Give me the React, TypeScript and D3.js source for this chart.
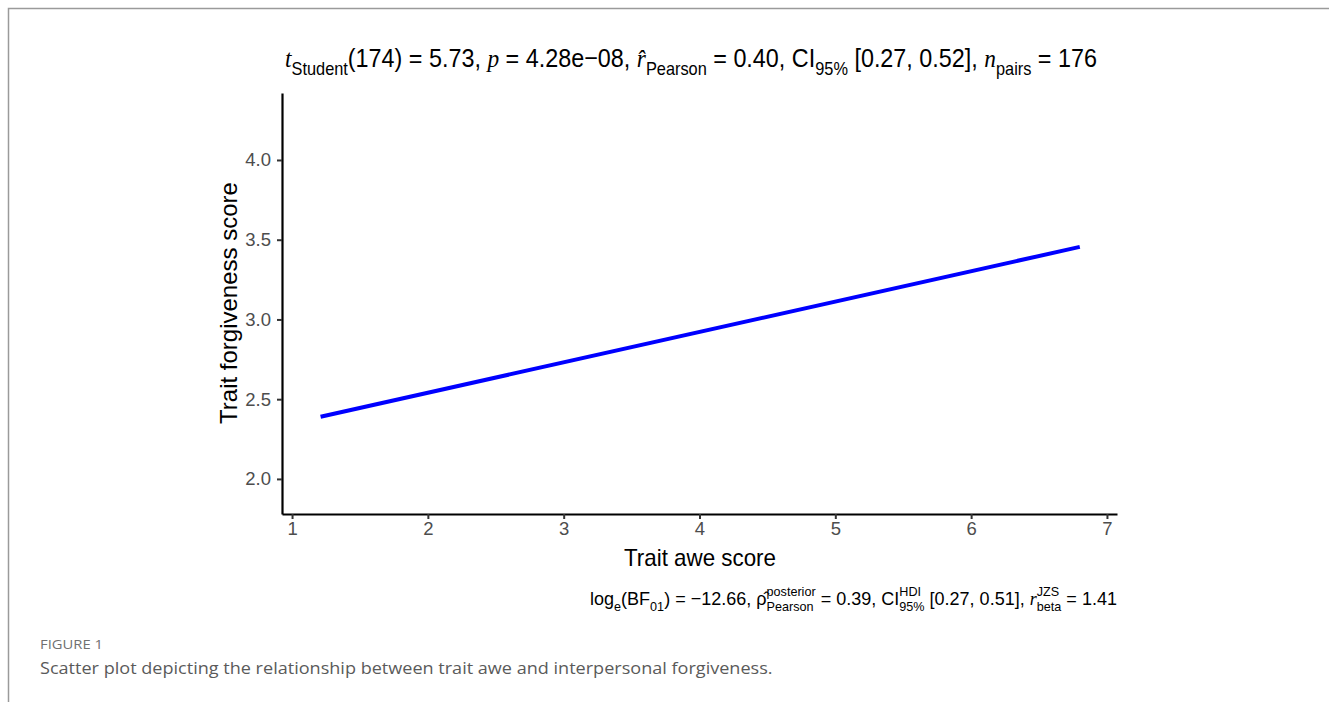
import React, { useEffect, useRef } from 'react';
import * as d3 from 'd3';

// axis ticks
const xTicks = [1, 2, 3, 4, 5, 6, 7];
const yTicks = [2.0, 2.5, 3.0, 3.5, 4.0];
const xDomain = [0.926, 7.074];
const yDomain = [1.78, 4.42];

// fitted regression line (trait awe -> trait forgiveness)
const fitX = [1.21, 6.8];
const fitY = [2.39, 3.455];

const titleSegs = [
  { t: 't', it: true },
  { t: 'Student', sub: true },
  { t: '(174) = 5.73, ' },
  { t: 'p', it: true },
  { t: ' = 4.28e\u221208, ' },
  { t: 'r\u0302', it: true },
  { t: 'Pearson', sub: true },
  { t: ' = 0.40, CI' },
  { t: '95%', sub: true },
  { t: ' [0.27, 0.52], ' },
  { t: 'n', it: true },
  { t: 'pairs', sub: true },
  { t: ' = 176' },
];

const captionSegs = [
  { t: 'log' },
  { t: 'e', sub: true },
  { t: '(BF' },
  { t: '01', sub: true },
  { t: ') = \u221212.66, ' },
  { t: '\u03c1\u0302' },
  { sup: 'posterior', low: 'Pearson' },
  { t: ' = 0.39, CI' },
  { sup: 'HDI', low: '95%' },
  { t: ' [0.27, 0.51], ' },
  { t: 'r', it: true },
  { sup: 'JZS', low: 'beta' },
  { t: ' = 1.41' },
];

const SANS = '"Liberation Sans", Arial, sans-serif';
const SERIF = '"Liberation Serif", "DejaVu Serif", serif';

function rich(g: any, segs: any[], size: number) {
  let x = 0;
  const small = size * 0.7;
  const add = (txt: string, xx: number, y: number, fs: number, it = false) => {
    const t = g.append('text')
      .attr('x', xx).attr('y', y)
      .style('white-space', 'pre')
      .style('font-size', fs + 'px')
      .style('font-family', it ? SERIF : SANS)
      .style('font-style', it ? 'italic' : 'normal')
      .attr('fill', '#000')
      .text(txt);
    return t.node().getComputedTextLength();
  };
  segs.forEach(s => {
    if (s.sup !== undefined) {
      const a = add(s.sup, x, -size * 0.45, small);
      const b = add(s.low, x, size * 0.3, small);
      x += Math.max(a, b);
    } else if (s.sub) {
      x += add(s.t, x, size * 0.3, small);
    } else {
      x += add(s.t, x, 0, size, s.it);
    }
  });
  return x;
}

const App = () => {
  const svgRef = useRef<SVGSVGElement>(null);

  useEffect(() => {
    const svg = d3.select(svgRef.current);
    svg.selectAll('*').remove();

    // page frame
    svg.append('path')
      .attr('d', 'M8.5,702 V8.5 H1329')
      .attr('fill', 'none')
      .attr('stroke', '#9a9a9a')
      .attr('stroke-width', 1.5);

    const x = d3.scaleLinear().domain(xDomain).range([282, 1117]);
    const y = d3.scaleLinear().domain(yDomain).range([514, 93]);

    // regression line
    const line = d3.line<number>()
      .x(d => x(d))
      .y((d, i) => y(fitY[i]));
    svg.append('path')
      .datum(fitX)
      .attr('d', line)
      .attr('fill', 'none')
      .attr('stroke', '#0000ff')
      .attr('stroke-width', 4);

    // axes
    const xAxis = svg.append('g')
      .attr('transform', 'translate(0,514)')
      .call(d3.axisBottom(x).tickValues(xTicks).tickSize(5).tickPadding(3).tickSizeOuter(0).tickFormat(d3.format('d')));
    const yAxis = svg.append('g')
      .attr('transform', 'translate(282,0)')
      .call(d3.axisLeft(y).tickValues(yTicks).tickSize(5).tickPadding(6).tickSizeOuter(0).tickFormat(d3.format('.1f')));
    [xAxis, yAxis].forEach(a => {
      a.select('.domain').attr('stroke', '#000').attr('stroke-width', 2.2);
      a.selectAll('.tick line').attr('stroke', '#333').attr('stroke-width', 2);
      a.selectAll('.tick text')
        .attr('fill', '#4d4d4d')
        .style('font-size', '18.5px')
        .style('font-family', SANS);
    });

    // axis titles
    const xt = svg.append('text')
      .attr('x', 0).attr('y', 0)
      .style('font-size', '24px').style('font-family', SANS)
      .attr('fill', '#000')
      .text('Trait awe score');
    const xtw = (xt.node() as any).getComputedTextLength();
    xt.attr('transform', `translate(624,566) scale(${152 / xtw},1)`);

    svg.append('text')
      .attr('transform', 'translate(237,303) rotate(-90)')
      .attr('text-anchor', 'middle')
      .style('font-size', '24px').style('font-family', SANS)
      .attr('fill', '#000')
      .text('Trait forgiveness score');

    // subtitle on top
    const tg = svg.append('g');
    const tw = rich(tg, titleSegs, 26);
    tg.attr('transform', `translate(285,67) scale(${812 / tw},1)`);

    // bayesian caption below
    const cg = svg.append('g');
    const cw = rich(cg, captionSegs, 19);
    cg.attr('transform', `translate(590,605) scale(${527 / cw},1)`);

    // figure label + caption
    const f1 = svg.append('text')
      .attr('x', 0).attr('y', 0)
      .style('font-size', '12.5px').style('font-family', '"Open Sans", Lato, sans-serif')
      .attr('fill', '#707070')
      .text('FIGURE 1');
    const f1w = (f1.node() as any).getComputedTextLength();
    f1.attr('transform', `translate(40,649) scale(${63 / f1w},1)`);

    const f2 = svg.append('text')
      .attr('x', 0).attr('y', 0)
      .style('font-size', '17px').style('font-family', '"Open Sans", Lato, sans-serif')
      .attr('fill', '#5a5a5a')
      .text('Scatter plot depicting the relationship between trait awe and interpersonal forgiveness.');
    const f2w = (f2.node() as any).getComputedTextLength();
    f2.attr('transform', `translate(40,674) scale(${733 / f2w},1)`);
  }, []);

  return (
    <svg
      ref={svgRef}
      width={1329}
      height={702}
      style={{ position: 'absolute', left: 0, top: 0, background: '#fff' }}
    />
  );
};

export default App;
